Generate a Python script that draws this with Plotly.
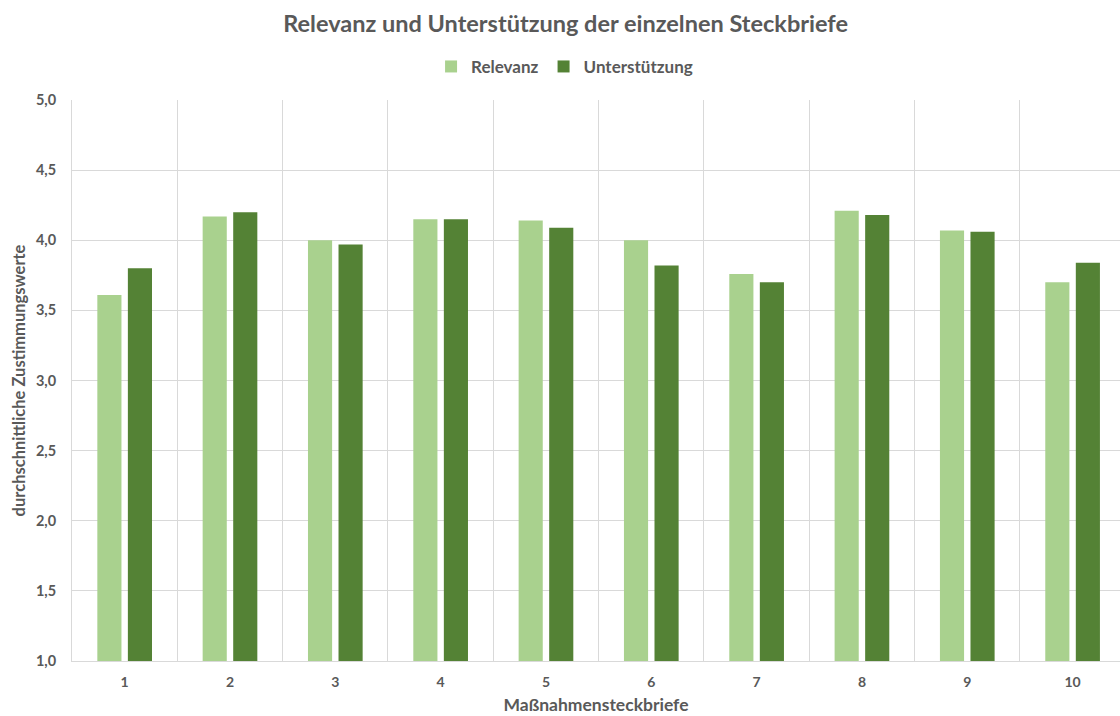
import plotly.graph_objects as go

# Maßnahmensteckbriefe 1–10 with mean agreement scores
steckbriefe = ["1", "2", "3", "4", "5", "6", "7", "8", "9", "10"]
relevanz = [3.61, 4.17, 4.00, 4.15, 4.14, 4.00, 3.76, 4.21, 4.07, 3.70]
unterstuetzung = [3.80, 4.20, 3.97, 4.15, 4.09, 3.82, 3.70, 4.18, 4.06, 3.84]

TEXT = "#595959"
GRID = "#D9D9D9"
FONT = "Lato, Open Sans, sans-serif"

fig = go.Figure()
fig.add_trace(go.Bar(name="<b>Relevanz</b>", x=steckbriefe, y=relevanz,
                     marker=dict(color="#A9D18E", line=dict(width=0))))
fig.add_trace(go.Bar(name="<b>Unterstützung</b>", x=steckbriefe, y=unterstuetzung,
                     marker=dict(color="#548235", line=dict(width=0))))

fig.update_layout(
    width=1120, height=716,
    margin=dict(l=72, r=0, t=100, b=55),
    paper_bgcolor="white", plot_bgcolor="white",
    separators=",.",
    barmode="group", bargap=0.42, bargroupgap=0.21,
    font=dict(family=FONT, color=TEXT),
    title=dict(text="<b>Relevanz und Unterstützung der einzelnen Steckbriefe</b>",
               x=0.505, xanchor="center", y=0.967, yanchor="middle",
               font=dict(size=23.5, color=TEXT, family=FONT)),
    legend=dict(orientation="h", x=0.47, xanchor="center", y=1.059, yanchor="middle",
                font=dict(size=17, color=TEXT, family=FONT), traceorder="normal",
                itemwidth=30),
    showlegend=True,
)

fig.update_xaxes(
    type="category", range=[-0.5, 9.45], tickson="boundaries",
    showgrid=True, gridcolor=GRID, gridwidth=1,
    showline=True, linecolor=GRID, linewidth=1,
    ticks="", ticklabelstandoff=8,
    tickfont=dict(size=14, color=TEXT, family=FONT),
    tickprefix="<b>", ticksuffix="</b>",
    title=dict(text="<b>Maßnahmensteckbriefe</b>", standoff=9,
               font=dict(size=17.5, color=TEXT, family=FONT)),
)
fig.update_yaxes(
    range=[1.0, 5.0], dtick=0.5, tickformat=".1f",
    showgrid=True, gridcolor=GRID, gridwidth=1,
    showline=True, linecolor=GRID, linewidth=1,
    zeroline=False, ticks="", ticklabelstandoff=12,
    tickfont=dict(size=14.5, color=TEXT, family=FONT),
    tickprefix="<b>", ticksuffix="</b>",
    title=dict(text="<b>durchschnittliche Zustimmungswerte</b>", standoff=6,
               font=dict(size=16.5, color=TEXT, family=FONT)),
)

fig.write_html("out.html")
